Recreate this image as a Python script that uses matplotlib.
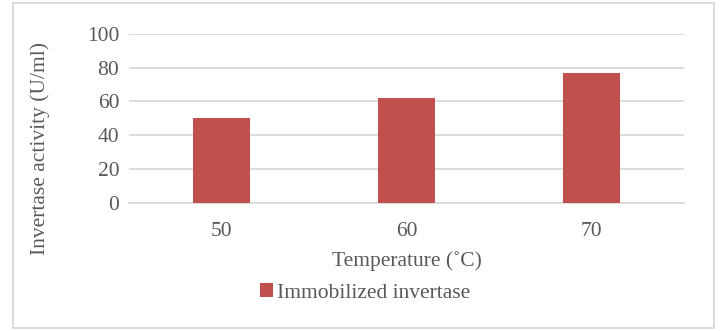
import matplotlib
matplotlib.use("Agg")
import matplotlib.pyplot as plt
from matplotlib.patches import Rectangle

temperatures = ["50", "60", "70"]
activity = [50, 62, 77]
series_name = "Immobilized invertase"
y_ticks = [0, 20, 40, 60, 80, 100]

plt.rcParams["font.family"] = ["Liberation Serif", "DejaVu Serif"]
text_color = "#595959"
grid_color = "#d9d9d9"
bar_color = "#c0504d"
fs = 15.5

fig = plt.figure(figsize=(7.2, 3.31), dpi=100)
ax = fig.add_axes([0.179, 0.388, 0.771, 0.51])

x = range(len(temperatures))
ax.bar(x, activity, width=0.31, color=bar_color, label=series_name, zorder=3)

ax.set_xlim(-0.5, len(temperatures) - 0.5)
ax.set_ylim(0, 100)
ax.set_yticks(y_ticks)
ax.set_xticks(list(x))
ax.set_xticklabels(temperatures)
ax.yaxis.grid(True, color=grid_color, linewidth=1.3, zorder=0)
ax.tick_params(length=0, labelsize=fs, colors=text_color)
ax.tick_params(axis="x", pad=14)
ax.tick_params(axis="y", pad=7)
for s in ["top", "right", "left"]:
    ax.spines[s].set_visible(False)
ax.spines["bottom"].set_color(grid_color)
ax.spines["bottom"].set_linewidth(1.3)

ax.set_ylabel("Invertase activity (U/ml)", fontsize=fs, color=text_color)
ax.set_xlabel("Temperature (˚C)", fontsize=fs, color=text_color)
ax.yaxis.set_label_coords(40 / 720, 1 - 148 / 331, transform=fig.transFigure)
ax.xaxis.set_label_coords(407 / 720, 1 - 261 / 331, transform=fig.transFigure)
ax.yaxis.label.set_va("center")
ax.xaxis.label.set_va("center")

fig.legend(loc="center", bbox_to_anchor=(365 / 720, 1 - 293 / 331), frameon=False,
           fontsize=fs, labelcolor=text_color, handlelength=0.6, handleheight=0.6,
           handletextpad=0.2)

# outer chart border
fig.patches.append(Rectangle((12.5 / 720, 3 / 331), 701 / 720, 325 / 331,
                             transform=fig.transFigure, fill=False,
                             edgecolor=grid_color, linewidth=1.3))

fig.savefig("out.png", dpi=100)
